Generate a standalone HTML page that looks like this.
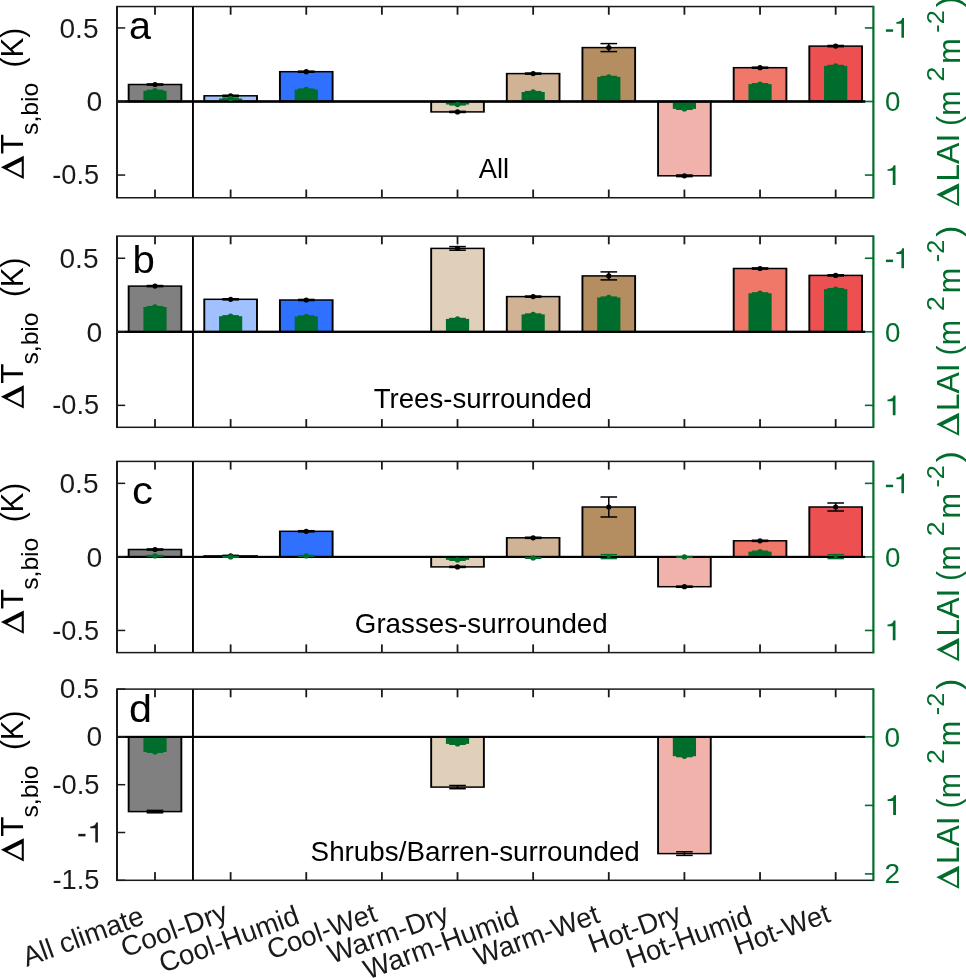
<!DOCTYPE html>
<html><head><meta charset="utf-8"><title>chart</title>
<style>html,body{margin:0;padding:0;background:#fff;width:966px;height:978px;overflow:hidden}svg{display:block;margin:0;will-change:transform}</style></head>
<body>
<svg width="966" height="978" viewBox="0 0 966 978">
<rect width="966" height="978" fill="#fff"/>
<g id="panel-a">
<rect x="127.70" y="83.75" width="54.60" height="18.50" fill="#000"/>
<rect x="129.60" y="85.25" width="50.80" height="15.50" fill="#808080"/>
<rect x="203.33" y="95.05" width="54.60" height="7.20" fill="#000"/>
<rect x="205.23" y="96.55" width="50.80" height="4.20" fill="#a0c0ff"/>
<rect x="278.96" y="70.95" width="54.60" height="31.30" fill="#000"/>
<rect x="280.86" y="72.45" width="50.80" height="28.30" fill="#3070ff"/>
<rect x="430.22" y="100.75" width="54.60" height="11.90" fill="#000"/>
<rect x="432.12" y="102.25" width="50.80" height="8.90" fill="#e0cfb9"/>
<rect x="505.85" y="72.85" width="54.60" height="29.40" fill="#000"/>
<rect x="507.75" y="74.35" width="50.80" height="26.40" fill="#d0b294"/>
<rect x="581.48" y="46.85" width="54.60" height="55.40" fill="#000"/>
<rect x="583.38" y="48.35" width="50.80" height="52.40" fill="#b48e60"/>
<rect x="657.11" y="100.75" width="54.60" height="75.80" fill="#000"/>
<rect x="659.01" y="102.25" width="50.80" height="72.80" fill="#f0b2aa"/>
<rect x="732.74" y="66.95" width="54.60" height="35.30" fill="#000"/>
<rect x="734.64" y="68.45" width="50.80" height="32.30" fill="#f07868"/>
<rect x="808.37" y="45.35" width="54.60" height="56.90" fill="#000"/>
<rect x="810.27" y="46.85" width="50.80" height="53.90" fill="#ec5050"/>
<rect x="117.00" y="100.50" width="748.20" height="2.00" fill="#000"/>
<rect x="146.70" y="83.20" width="16.60" height="1.50" fill="#000"/>
<rect x="146.70" y="84.30" width="16.60" height="1.50" fill="#000"/>
<circle cx="155.00" cy="84.50" r="2.6" fill="#000"/>
<rect x="222.33" y="94.50" width="16.60" height="1.50" fill="#000"/>
<rect x="222.33" y="95.60" width="16.60" height="1.50" fill="#000"/>
<circle cx="230.63" cy="95.80" r="2.6" fill="#000"/>
<rect x="297.96" y="70.40" width="16.60" height="1.50" fill="#000"/>
<rect x="297.96" y="71.50" width="16.60" height="1.50" fill="#000"/>
<circle cx="306.26" cy="71.70" r="2.6" fill="#000"/>
<rect x="449.22" y="110.60" width="16.60" height="1.50" fill="#000"/>
<rect x="449.22" y="111.70" width="16.60" height="1.50" fill="#000"/>
<circle cx="457.52" cy="111.90" r="2.6" fill="#000"/>
<rect x="524.85" y="72.30" width="16.60" height="1.50" fill="#000"/>
<rect x="524.85" y="73.40" width="16.60" height="1.50" fill="#000"/>
<circle cx="533.15" cy="73.60" r="2.6" fill="#000"/>
<rect x="608.03" y="43.60" width="1.50" height="8.00" fill="#000"/>
<rect x="600.48" y="42.85" width="16.60" height="1.50" fill="#000"/>
<rect x="600.48" y="50.85" width="16.60" height="1.50" fill="#000"/>
<circle cx="608.78" cy="47.60" r="2.6" fill="#000"/>
<rect x="676.11" y="174.25" width="16.60" height="1.50" fill="#000"/>
<rect x="676.11" y="175.85" width="16.60" height="1.50" fill="#000"/>
<circle cx="684.41" cy="175.80" r="2.6" fill="#000"/>
<rect x="751.74" y="66.40" width="16.60" height="1.50" fill="#000"/>
<rect x="751.74" y="67.50" width="16.60" height="1.50" fill="#000"/>
<circle cx="760.04" cy="67.70" r="2.6" fill="#000"/>
<rect x="827.37" y="44.75" width="16.60" height="1.50" fill="#000"/>
<rect x="827.37" y="45.95" width="16.60" height="1.50" fill="#000"/>
<circle cx="835.67" cy="46.10" r="2.6" fill="#000"/>
<rect x="143.40" y="90.80" width="23.20" height="10.70" fill="#006d2c"/>
<rect x="219.03" y="98.50" width="23.20" height="3.00" fill="#006d2c"/>
<rect x="294.66" y="89.50" width="23.20" height="12.00" fill="#006d2c"/>
<rect x="445.92" y="101.50" width="23.20" height="3.00" fill="#006d2c"/>
<rect x="521.55" y="92.00" width="23.20" height="9.50" fill="#006d2c"/>
<rect x="597.18" y="76.90" width="23.20" height="24.60" fill="#006d2c"/>
<rect x="672.81" y="101.50" width="23.20" height="7.40" fill="#006d2c"/>
<rect x="748.44" y="84.10" width="23.20" height="17.40" fill="#006d2c"/>
<rect x="824.07" y="65.90" width="23.20" height="35.60" fill="#006d2c"/>
<rect x="117.00" y="100.35" width="748.20" height="2.30" fill="#000"/>
<rect x="146.80" y="89.70" width="16.40" height="1.40" fill="#006d2c"/>
<rect x="146.80" y="90.50" width="16.40" height="1.40" fill="#006d2c"/>
<circle cx="155.00" cy="90.80" r="2.7" fill="#006d2c"/>
<rect x="222.43" y="97.40" width="16.40" height="1.40" fill="#006d2c"/>
<rect x="222.43" y="98.20" width="16.40" height="1.40" fill="#006d2c"/>
<circle cx="230.63" cy="98.50" r="2.7" fill="#006d2c"/>
<rect x="298.06" y="88.40" width="16.40" height="1.40" fill="#006d2c"/>
<rect x="298.06" y="89.20" width="16.40" height="1.40" fill="#006d2c"/>
<circle cx="306.26" cy="89.50" r="2.7" fill="#006d2c"/>
<rect x="449.32" y="103.40" width="16.40" height="1.40" fill="#006d2c"/>
<rect x="449.32" y="104.20" width="16.40" height="1.40" fill="#006d2c"/>
<circle cx="457.52" cy="104.50" r="2.7" fill="#006d2c"/>
<rect x="524.95" y="90.90" width="16.40" height="1.40" fill="#006d2c"/>
<rect x="524.95" y="91.70" width="16.40" height="1.40" fill="#006d2c"/>
<circle cx="533.15" cy="92.00" r="2.7" fill="#006d2c"/>
<rect x="600.58" y="75.80" width="16.40" height="1.40" fill="#006d2c"/>
<rect x="600.58" y="76.60" width="16.40" height="1.40" fill="#006d2c"/>
<circle cx="608.78" cy="76.90" r="2.7" fill="#006d2c"/>
<rect x="676.21" y="107.80" width="16.40" height="1.40" fill="#006d2c"/>
<rect x="676.21" y="108.60" width="16.40" height="1.40" fill="#006d2c"/>
<circle cx="684.41" cy="108.90" r="2.7" fill="#006d2c"/>
<rect x="751.84" y="83.00" width="16.40" height="1.40" fill="#006d2c"/>
<rect x="751.84" y="83.80" width="16.40" height="1.40" fill="#006d2c"/>
<circle cx="760.04" cy="84.10" r="2.7" fill="#006d2c"/>
<rect x="827.47" y="64.80" width="16.40" height="1.40" fill="#006d2c"/>
<rect x="827.47" y="65.60" width="16.40" height="1.40" fill="#006d2c"/>
<circle cx="835.67" cy="65.90" r="2.7" fill="#006d2c"/>
<rect x="192.00" y="6.55" width="1.90" height="191.20" fill="#000"/>
<rect x="154.10" y="6.55" width="1.80" height="8.20" fill="#1a1a1a"/>
<rect x="154.10" y="189.55" width="1.80" height="8.20" fill="#1a1a1a"/>
<rect x="229.73" y="6.55" width="1.80" height="8.20" fill="#1a1a1a"/>
<rect x="229.73" y="189.55" width="1.80" height="8.20" fill="#1a1a1a"/>
<rect x="305.36" y="6.55" width="1.80" height="8.20" fill="#1a1a1a"/>
<rect x="305.36" y="189.55" width="1.80" height="8.20" fill="#1a1a1a"/>
<rect x="380.99" y="6.55" width="1.80" height="8.20" fill="#1a1a1a"/>
<rect x="380.99" y="189.55" width="1.80" height="8.20" fill="#1a1a1a"/>
<rect x="456.62" y="6.55" width="1.80" height="8.20" fill="#1a1a1a"/>
<rect x="456.62" y="189.55" width="1.80" height="8.20" fill="#1a1a1a"/>
<rect x="532.25" y="6.55" width="1.80" height="8.20" fill="#1a1a1a"/>
<rect x="532.25" y="189.55" width="1.80" height="8.20" fill="#1a1a1a"/>
<rect x="607.88" y="6.55" width="1.80" height="8.20" fill="#1a1a1a"/>
<rect x="607.88" y="189.55" width="1.80" height="8.20" fill="#1a1a1a"/>
<rect x="683.51" y="6.55" width="1.80" height="8.20" fill="#1a1a1a"/>
<rect x="683.51" y="189.55" width="1.80" height="8.20" fill="#1a1a1a"/>
<rect x="759.14" y="6.55" width="1.80" height="8.20" fill="#1a1a1a"/>
<rect x="759.14" y="189.55" width="1.80" height="8.20" fill="#1a1a1a"/>
<rect x="834.77" y="6.55" width="1.80" height="8.20" fill="#1a1a1a"/>
<rect x="834.77" y="189.55" width="1.80" height="8.20" fill="#1a1a1a"/>
<rect x="117.00" y="27.20" width="8.20" height="1.50" fill="#1a1a1a"/>
<rect x="117.00" y="100.75" width="8.20" height="1.50" fill="#1a1a1a"/>
<rect x="117.00" y="174.30" width="8.20" height="1.50" fill="#1a1a1a"/>
<rect x="864.90" y="27.15" width="8.50" height="1.60" fill="#006d2c"/>
<rect x="864.90" y="100.70" width="8.50" height="1.60" fill="#006d2c"/>
<rect x="864.90" y="174.25" width="8.50" height="1.60" fill="#006d2c"/>
<rect x="116.05" y="5.80" width="757.35" height="1.50" fill="#1a1a1a"/>
<rect x="116.05" y="197.00" width="757.35" height="1.50" fill="#1a1a1a"/>
<rect x="116.00" y="6.55" width="2.00" height="191.20" fill="#1a1a1a"/>
<rect x="872.30" y="5.80" width="2.20" height="192.70" fill="#006d2c"/>
</g>
<g id="panel-b">
<rect x="127.70" y="285.35" width="54.60" height="47.20" fill="#000"/>
<rect x="129.60" y="286.85" width="50.80" height="44.20" fill="#808080"/>
<rect x="203.33" y="298.55" width="54.60" height="34.00" fill="#000"/>
<rect x="205.23" y="300.05" width="50.80" height="31.00" fill="#a0c0ff"/>
<rect x="278.96" y="299.25" width="54.60" height="33.30" fill="#000"/>
<rect x="280.86" y="300.75" width="50.80" height="30.30" fill="#3070ff"/>
<rect x="430.22" y="247.65" width="54.60" height="84.90" fill="#000"/>
<rect x="432.12" y="249.15" width="50.80" height="81.90" fill="#e0cfb9"/>
<rect x="505.85" y="295.85" width="54.60" height="36.70" fill="#000"/>
<rect x="507.75" y="297.35" width="50.80" height="33.70" fill="#d0b294"/>
<rect x="581.48" y="275.15" width="54.60" height="57.40" fill="#000"/>
<rect x="583.38" y="276.65" width="50.80" height="54.40" fill="#b48e60"/>
<rect x="732.74" y="267.75" width="54.60" height="64.80" fill="#000"/>
<rect x="734.64" y="269.25" width="50.80" height="61.80" fill="#f07868"/>
<rect x="808.37" y="274.65" width="54.60" height="57.90" fill="#000"/>
<rect x="810.27" y="276.15" width="50.80" height="54.90" fill="#ec5050"/>
<rect x="117.00" y="330.80" width="748.20" height="2.00" fill="#000"/>
<rect x="146.70" y="284.80" width="16.60" height="1.50" fill="#000"/>
<rect x="146.70" y="285.90" width="16.60" height="1.50" fill="#000"/>
<circle cx="155.00" cy="286.10" r="2.6" fill="#000"/>
<rect x="222.33" y="298.00" width="16.60" height="1.50" fill="#000"/>
<rect x="222.33" y="299.10" width="16.60" height="1.50" fill="#000"/>
<circle cx="230.63" cy="299.30" r="2.6" fill="#000"/>
<rect x="297.96" y="298.70" width="16.60" height="1.50" fill="#000"/>
<rect x="297.96" y="299.80" width="16.60" height="1.50" fill="#000"/>
<circle cx="306.26" cy="300.00" r="2.6" fill="#000"/>
<rect x="456.77" y="246.60" width="1.50" height="3.60" fill="#000"/>
<rect x="449.22" y="245.85" width="16.60" height="1.50" fill="#000"/>
<rect x="449.22" y="249.45" width="16.60" height="1.50" fill="#000"/>
<circle cx="457.52" cy="248.40" r="2.6" fill="#000"/>
<rect x="524.85" y="295.30" width="16.60" height="1.50" fill="#000"/>
<rect x="524.85" y="296.40" width="16.60" height="1.50" fill="#000"/>
<circle cx="533.15" cy="296.60" r="2.6" fill="#000"/>
<rect x="608.03" y="271.90" width="1.50" height="8.00" fill="#000"/>
<rect x="600.48" y="271.15" width="16.60" height="1.50" fill="#000"/>
<rect x="600.48" y="279.15" width="16.60" height="1.50" fill="#000"/>
<circle cx="608.78" cy="275.90" r="2.6" fill="#000"/>
<rect x="751.74" y="267.15" width="16.60" height="1.50" fill="#000"/>
<rect x="751.74" y="268.35" width="16.60" height="1.50" fill="#000"/>
<circle cx="760.04" cy="268.50" r="2.6" fill="#000"/>
<rect x="827.37" y="274.05" width="16.60" height="1.50" fill="#000"/>
<rect x="827.37" y="275.25" width="16.60" height="1.50" fill="#000"/>
<circle cx="835.67" cy="275.40" r="2.6" fill="#000"/>
<rect x="143.40" y="307.00" width="23.20" height="24.80" fill="#006d2c"/>
<rect x="219.03" y="316.20" width="23.20" height="15.60" fill="#006d2c"/>
<rect x="294.66" y="316.40" width="23.20" height="15.40" fill="#006d2c"/>
<rect x="445.92" y="318.90" width="23.20" height="12.90" fill="#006d2c"/>
<rect x="521.55" y="314.40" width="23.20" height="17.40" fill="#006d2c"/>
<rect x="597.18" y="297.50" width="23.20" height="34.30" fill="#006d2c"/>
<rect x="748.44" y="293.30" width="23.20" height="38.50" fill="#006d2c"/>
<rect x="824.07" y="289.10" width="23.20" height="42.70" fill="#006d2c"/>
<rect x="117.00" y="330.80" width="748.20" height="2.00" fill="#000"/>
<rect x="146.80" y="305.90" width="16.40" height="1.40" fill="#006d2c"/>
<rect x="146.80" y="306.70" width="16.40" height="1.40" fill="#006d2c"/>
<circle cx="155.00" cy="307.00" r="2.7" fill="#006d2c"/>
<rect x="222.43" y="315.10" width="16.40" height="1.40" fill="#006d2c"/>
<rect x="222.43" y="315.90" width="16.40" height="1.40" fill="#006d2c"/>
<circle cx="230.63" cy="316.20" r="2.7" fill="#006d2c"/>
<rect x="298.06" y="315.30" width="16.40" height="1.40" fill="#006d2c"/>
<rect x="298.06" y="316.10" width="16.40" height="1.40" fill="#006d2c"/>
<circle cx="306.26" cy="316.40" r="2.7" fill="#006d2c"/>
<rect x="449.32" y="317.80" width="16.40" height="1.40" fill="#006d2c"/>
<rect x="449.32" y="318.60" width="16.40" height="1.40" fill="#006d2c"/>
<circle cx="457.52" cy="318.90" r="2.7" fill="#006d2c"/>
<rect x="524.95" y="313.30" width="16.40" height="1.40" fill="#006d2c"/>
<rect x="524.95" y="314.10" width="16.40" height="1.40" fill="#006d2c"/>
<circle cx="533.15" cy="314.40" r="2.7" fill="#006d2c"/>
<rect x="600.58" y="296.40" width="16.40" height="1.40" fill="#006d2c"/>
<rect x="600.58" y="297.20" width="16.40" height="1.40" fill="#006d2c"/>
<circle cx="608.78" cy="297.50" r="2.7" fill="#006d2c"/>
<rect x="751.84" y="292.20" width="16.40" height="1.40" fill="#006d2c"/>
<rect x="751.84" y="293.00" width="16.40" height="1.40" fill="#006d2c"/>
<circle cx="760.04" cy="293.30" r="2.7" fill="#006d2c"/>
<rect x="827.47" y="288.00" width="16.40" height="1.40" fill="#006d2c"/>
<rect x="827.47" y="288.80" width="16.40" height="1.40" fill="#006d2c"/>
<circle cx="835.67" cy="289.10" r="2.7" fill="#006d2c"/>
<rect x="192.00" y="236.10" width="1.90" height="191.20" fill="#000"/>
<rect x="154.10" y="236.10" width="1.80" height="8.20" fill="#1a1a1a"/>
<rect x="154.10" y="419.10" width="1.80" height="8.20" fill="#1a1a1a"/>
<rect x="229.73" y="236.10" width="1.80" height="8.20" fill="#1a1a1a"/>
<rect x="229.73" y="419.10" width="1.80" height="8.20" fill="#1a1a1a"/>
<rect x="305.36" y="236.10" width="1.80" height="8.20" fill="#1a1a1a"/>
<rect x="305.36" y="419.10" width="1.80" height="8.20" fill="#1a1a1a"/>
<rect x="380.99" y="236.10" width="1.80" height="8.20" fill="#1a1a1a"/>
<rect x="380.99" y="419.10" width="1.80" height="8.20" fill="#1a1a1a"/>
<rect x="456.62" y="236.10" width="1.80" height="8.20" fill="#1a1a1a"/>
<rect x="456.62" y="419.10" width="1.80" height="8.20" fill="#1a1a1a"/>
<rect x="532.25" y="236.10" width="1.80" height="8.20" fill="#1a1a1a"/>
<rect x="532.25" y="419.10" width="1.80" height="8.20" fill="#1a1a1a"/>
<rect x="607.88" y="236.10" width="1.80" height="8.20" fill="#1a1a1a"/>
<rect x="607.88" y="419.10" width="1.80" height="8.20" fill="#1a1a1a"/>
<rect x="683.51" y="236.10" width="1.80" height="8.20" fill="#1a1a1a"/>
<rect x="683.51" y="419.10" width="1.80" height="8.20" fill="#1a1a1a"/>
<rect x="759.14" y="236.10" width="1.80" height="8.20" fill="#1a1a1a"/>
<rect x="759.14" y="419.10" width="1.80" height="8.20" fill="#1a1a1a"/>
<rect x="834.77" y="236.10" width="1.80" height="8.20" fill="#1a1a1a"/>
<rect x="834.77" y="419.10" width="1.80" height="8.20" fill="#1a1a1a"/>
<rect x="117.00" y="257.50" width="8.20" height="1.50" fill="#1a1a1a"/>
<rect x="117.00" y="331.05" width="8.20" height="1.50" fill="#1a1a1a"/>
<rect x="117.00" y="404.60" width="8.20" height="1.50" fill="#1a1a1a"/>
<rect x="864.90" y="257.45" width="8.50" height="1.60" fill="#006d2c"/>
<rect x="864.90" y="331.00" width="8.50" height="1.60" fill="#006d2c"/>
<rect x="864.90" y="404.55" width="8.50" height="1.60" fill="#006d2c"/>
<rect x="116.05" y="235.35" width="757.35" height="1.50" fill="#1a1a1a"/>
<rect x="116.05" y="426.55" width="757.35" height="1.50" fill="#1a1a1a"/>
<rect x="116.00" y="236.10" width="2.00" height="191.20" fill="#1a1a1a"/>
<rect x="872.30" y="235.35" width="2.20" height="192.70" fill="#006d2c"/>
</g>
<g id="panel-c">
<rect x="127.70" y="548.75" width="54.60" height="8.90" fill="#000"/>
<rect x="129.60" y="550.25" width="50.80" height="5.90" fill="#808080"/>
<rect x="203.33" y="555.15" width="54.60" height="2.50" fill="#000"/>
<rect x="278.96" y="530.55" width="54.60" height="27.10" fill="#000"/>
<rect x="280.86" y="532.05" width="50.80" height="24.10" fill="#3070ff"/>
<rect x="430.22" y="556.15" width="54.60" height="11.50" fill="#000"/>
<rect x="432.12" y="557.65" width="50.80" height="8.50" fill="#e0cfb9"/>
<rect x="505.85" y="537.05" width="54.60" height="20.60" fill="#000"/>
<rect x="507.75" y="538.55" width="50.80" height="17.60" fill="#d0b294"/>
<rect x="581.48" y="506.25" width="54.60" height="51.40" fill="#000"/>
<rect x="583.38" y="507.75" width="50.80" height="48.40" fill="#b48e60"/>
<rect x="657.11" y="556.15" width="54.60" height="31.30" fill="#000"/>
<rect x="659.01" y="557.65" width="50.80" height="28.30" fill="#f0b2aa"/>
<rect x="732.74" y="540.05" width="54.60" height="17.60" fill="#000"/>
<rect x="734.64" y="541.55" width="50.80" height="14.60" fill="#f07868"/>
<rect x="808.37" y="506.25" width="54.60" height="51.40" fill="#000"/>
<rect x="810.27" y="507.75" width="50.80" height="48.40" fill="#ec5050"/>
<rect x="117.00" y="555.90" width="748.20" height="2.00" fill="#000"/>
<rect x="146.70" y="548.20" width="16.60" height="1.50" fill="#000"/>
<rect x="146.70" y="549.30" width="16.60" height="1.50" fill="#000"/>
<circle cx="155.00" cy="549.50" r="2.6" fill="#000"/>
<rect x="222.33" y="554.60" width="16.60" height="1.50" fill="#000"/>
<rect x="222.33" y="555.70" width="16.60" height="1.50" fill="#000"/>
<circle cx="230.63" cy="555.90" r="2.6" fill="#000"/>
<rect x="297.96" y="529.95" width="16.60" height="1.50" fill="#000"/>
<rect x="297.96" y="531.15" width="16.60" height="1.50" fill="#000"/>
<circle cx="306.26" cy="531.30" r="2.6" fill="#000"/>
<rect x="449.22" y="565.60" width="16.60" height="1.50" fill="#000"/>
<rect x="449.22" y="566.70" width="16.60" height="1.50" fill="#000"/>
<circle cx="457.52" cy="566.90" r="2.6" fill="#000"/>
<rect x="524.85" y="536.50" width="16.60" height="1.50" fill="#000"/>
<rect x="524.85" y="537.60" width="16.60" height="1.50" fill="#000"/>
<circle cx="533.15" cy="537.80" r="2.6" fill="#000"/>
<rect x="608.03" y="497.00" width="1.50" height="20.00" fill="#000"/>
<rect x="600.48" y="496.25" width="16.60" height="1.50" fill="#000"/>
<rect x="600.48" y="516.25" width="16.60" height="1.50" fill="#000"/>
<circle cx="608.78" cy="507.00" r="2.6" fill="#000"/>
<rect x="676.11" y="585.35" width="16.60" height="1.50" fill="#000"/>
<rect x="676.11" y="586.55" width="16.60" height="1.50" fill="#000"/>
<circle cx="684.41" cy="586.70" r="2.6" fill="#000"/>
<rect x="751.74" y="539.50" width="16.60" height="1.50" fill="#000"/>
<rect x="751.74" y="540.60" width="16.60" height="1.50" fill="#000"/>
<circle cx="760.04" cy="540.80" r="2.6" fill="#000"/>
<rect x="834.92" y="503.00" width="1.50" height="8.00" fill="#000"/>
<rect x="827.37" y="502.25" width="16.60" height="1.50" fill="#000"/>
<rect x="827.37" y="510.25" width="16.60" height="1.50" fill="#000"/>
<circle cx="835.67" cy="507.00" r="2.6" fill="#000"/>
<rect x="143.40" y="555.90" width="23.20" height="1.00" fill="#006d2c"/>
<rect x="294.66" y="555.90" width="23.20" height="1.00" fill="#006d2c"/>
<rect x="445.92" y="556.90" width="23.20" height="3.00" fill="#006d2c"/>
<rect x="521.55" y="556.90" width="23.20" height="1.00" fill="#006d2c"/>
<rect x="597.18" y="556.60" width="23.20" height="0.30" fill="#006d2c"/>
<rect x="748.44" y="551.60" width="23.20" height="5.30" fill="#006d2c"/>
<rect x="824.07" y="556.60" width="23.20" height="0.30" fill="#006d2c"/>
<rect x="117.00" y="555.90" width="748.20" height="2.00" fill="#000"/>
<rect x="146.80" y="554.80" width="16.40" height="1.40" fill="#006d2c"/>
<rect x="146.80" y="555.60" width="16.40" height="1.40" fill="#006d2c"/>
<circle cx="155.00" cy="555.90" r="2.7" fill="#006d2c"/>
<rect x="222.43" y="555.80" width="16.40" height="1.40" fill="#006d2c"/>
<rect x="222.43" y="556.60" width="16.40" height="1.40" fill="#006d2c"/>
<circle cx="230.63" cy="556.90" r="2.7" fill="#006d2c"/>
<rect x="298.06" y="554.80" width="16.40" height="1.40" fill="#006d2c"/>
<rect x="298.06" y="555.60" width="16.40" height="1.40" fill="#006d2c"/>
<circle cx="306.26" cy="555.90" r="2.7" fill="#006d2c"/>
<rect x="449.32" y="558.80" width="16.40" height="1.40" fill="#006d2c"/>
<rect x="449.32" y="559.60" width="16.40" height="1.40" fill="#006d2c"/>
<circle cx="457.52" cy="559.90" r="2.7" fill="#006d2c"/>
<rect x="524.95" y="556.80" width="16.40" height="1.40" fill="#006d2c"/>
<rect x="524.95" y="557.60" width="16.40" height="1.40" fill="#006d2c"/>
<circle cx="533.15" cy="557.90" r="2.7" fill="#006d2c"/>
<rect x="600.58" y="553.90" width="16.40" height="1.40" fill="#006d2c"/>
<rect x="600.58" y="557.90" width="16.40" height="1.40" fill="#006d2c"/>
<circle cx="608.78" cy="556.60" r="2.0" fill="#006d2c"/>
<rect x="676.21" y="555.80" width="16.40" height="1.40" fill="#006d2c"/>
<rect x="676.21" y="556.60" width="16.40" height="1.40" fill="#006d2c"/>
<circle cx="684.41" cy="556.90" r="2.7" fill="#006d2c"/>
<rect x="751.84" y="550.50" width="16.40" height="1.40" fill="#006d2c"/>
<rect x="751.84" y="551.30" width="16.40" height="1.40" fill="#006d2c"/>
<circle cx="760.04" cy="551.60" r="2.7" fill="#006d2c"/>
<rect x="827.47" y="553.90" width="16.40" height="1.40" fill="#006d2c"/>
<rect x="827.47" y="557.90" width="16.40" height="1.40" fill="#006d2c"/>
<circle cx="835.67" cy="556.60" r="2.0" fill="#006d2c"/>
<rect x="192.00" y="461.40" width="1.90" height="191.20" fill="#000"/>
<rect x="154.10" y="461.40" width="1.80" height="8.20" fill="#1a1a1a"/>
<rect x="154.10" y="644.40" width="1.80" height="8.20" fill="#1a1a1a"/>
<rect x="229.73" y="461.40" width="1.80" height="8.20" fill="#1a1a1a"/>
<rect x="229.73" y="644.40" width="1.80" height="8.20" fill="#1a1a1a"/>
<rect x="305.36" y="461.40" width="1.80" height="8.20" fill="#1a1a1a"/>
<rect x="305.36" y="644.40" width="1.80" height="8.20" fill="#1a1a1a"/>
<rect x="380.99" y="461.40" width="1.80" height="8.20" fill="#1a1a1a"/>
<rect x="380.99" y="644.40" width="1.80" height="8.20" fill="#1a1a1a"/>
<rect x="456.62" y="461.40" width="1.80" height="8.20" fill="#1a1a1a"/>
<rect x="456.62" y="644.40" width="1.80" height="8.20" fill="#1a1a1a"/>
<rect x="532.25" y="461.40" width="1.80" height="8.20" fill="#1a1a1a"/>
<rect x="532.25" y="644.40" width="1.80" height="8.20" fill="#1a1a1a"/>
<rect x="607.88" y="461.40" width="1.80" height="8.20" fill="#1a1a1a"/>
<rect x="607.88" y="644.40" width="1.80" height="8.20" fill="#1a1a1a"/>
<rect x="683.51" y="461.40" width="1.80" height="8.20" fill="#1a1a1a"/>
<rect x="683.51" y="644.40" width="1.80" height="8.20" fill="#1a1a1a"/>
<rect x="759.14" y="461.40" width="1.80" height="8.20" fill="#1a1a1a"/>
<rect x="759.14" y="644.40" width="1.80" height="8.20" fill="#1a1a1a"/>
<rect x="834.77" y="461.40" width="1.80" height="8.20" fill="#1a1a1a"/>
<rect x="834.77" y="644.40" width="1.80" height="8.20" fill="#1a1a1a"/>
<rect x="117.00" y="482.60" width="8.20" height="1.50" fill="#1a1a1a"/>
<rect x="117.00" y="556.15" width="8.20" height="1.50" fill="#1a1a1a"/>
<rect x="117.00" y="629.70" width="8.20" height="1.50" fill="#1a1a1a"/>
<rect x="864.90" y="482.55" width="8.50" height="1.60" fill="#006d2c"/>
<rect x="864.90" y="556.10" width="8.50" height="1.60" fill="#006d2c"/>
<rect x="864.90" y="629.65" width="8.50" height="1.60" fill="#006d2c"/>
<rect x="116.05" y="460.65" width="757.35" height="1.50" fill="#1a1a1a"/>
<rect x="116.05" y="651.85" width="757.35" height="1.50" fill="#1a1a1a"/>
<rect x="116.00" y="461.40" width="2.00" height="191.20" fill="#1a1a1a"/>
<rect x="872.30" y="460.65" width="2.20" height="192.70" fill="#006d2c"/>
</g>
<g id="panel-d">
<rect x="127.70" y="736.15" width="54.60" height="76.20" fill="#000"/>
<rect x="129.60" y="737.65" width="50.80" height="73.20" fill="#808080"/>
<rect x="430.22" y="736.15" width="54.60" height="51.70" fill="#000"/>
<rect x="432.12" y="737.65" width="50.80" height="48.70" fill="#e0cfb9"/>
<rect x="657.11" y="736.15" width="54.60" height="118.20" fill="#000"/>
<rect x="659.01" y="737.65" width="50.80" height="115.20" fill="#f0b2aa"/>
<rect x="117.00" y="735.90" width="748.20" height="2.00" fill="#000"/>
<rect x="154.25" y="810.40" width="1.50" height="2.40" fill="#000"/>
<rect x="146.70" y="809.65" width="16.60" height="1.50" fill="#000"/>
<rect x="146.70" y="812.05" width="16.60" height="1.50" fill="#000"/>
<rect x="456.77" y="785.50" width="1.50" height="3.20" fill="#000"/>
<rect x="449.22" y="784.75" width="16.60" height="1.50" fill="#000"/>
<rect x="449.22" y="787.95" width="16.60" height="1.50" fill="#000"/>
<rect x="683.66" y="851.80" width="1.50" height="3.60" fill="#000"/>
<rect x="676.11" y="851.05" width="16.60" height="1.50" fill="#000"/>
<rect x="676.11" y="854.65" width="16.60" height="1.50" fill="#000"/>
<rect x="143.40" y="736.90" width="23.20" height="15.00" fill="#006d2c"/>
<rect x="445.92" y="736.90" width="23.20" height="7.00" fill="#006d2c"/>
<rect x="672.81" y="736.90" width="23.20" height="19.30" fill="#006d2c"/>
<rect x="117.00" y="735.90" width="748.20" height="2.00" fill="#000"/>
<rect x="146.80" y="750.80" width="16.40" height="1.40" fill="#006d2c"/>
<rect x="146.80" y="751.60" width="16.40" height="1.40" fill="#006d2c"/>
<circle cx="155.00" cy="751.90" r="2.7" fill="#006d2c"/>
<rect x="449.32" y="742.80" width="16.40" height="1.40" fill="#006d2c"/>
<rect x="449.32" y="743.60" width="16.40" height="1.40" fill="#006d2c"/>
<circle cx="457.52" cy="743.90" r="2.7" fill="#006d2c"/>
<rect x="676.21" y="755.10" width="16.40" height="1.40" fill="#006d2c"/>
<rect x="676.21" y="755.90" width="16.40" height="1.40" fill="#006d2c"/>
<circle cx="684.41" cy="756.20" r="2.7" fill="#006d2c"/>
<rect x="192.00" y="689.10" width="1.90" height="191.20" fill="#000"/>
<rect x="154.10" y="689.10" width="1.80" height="8.20" fill="#1a1a1a"/>
<rect x="154.10" y="872.10" width="1.80" height="8.20" fill="#1a1a1a"/>
<rect x="229.73" y="689.10" width="1.80" height="8.20" fill="#1a1a1a"/>
<rect x="229.73" y="872.10" width="1.80" height="8.20" fill="#1a1a1a"/>
<rect x="305.36" y="689.10" width="1.80" height="8.20" fill="#1a1a1a"/>
<rect x="305.36" y="872.10" width="1.80" height="8.20" fill="#1a1a1a"/>
<rect x="380.99" y="689.10" width="1.80" height="8.20" fill="#1a1a1a"/>
<rect x="380.99" y="872.10" width="1.80" height="8.20" fill="#1a1a1a"/>
<rect x="456.62" y="689.10" width="1.80" height="8.20" fill="#1a1a1a"/>
<rect x="456.62" y="872.10" width="1.80" height="8.20" fill="#1a1a1a"/>
<rect x="532.25" y="689.10" width="1.80" height="8.20" fill="#1a1a1a"/>
<rect x="532.25" y="872.10" width="1.80" height="8.20" fill="#1a1a1a"/>
<rect x="607.88" y="689.10" width="1.80" height="8.20" fill="#1a1a1a"/>
<rect x="607.88" y="872.10" width="1.80" height="8.20" fill="#1a1a1a"/>
<rect x="683.51" y="689.10" width="1.80" height="8.20" fill="#1a1a1a"/>
<rect x="683.51" y="872.10" width="1.80" height="8.20" fill="#1a1a1a"/>
<rect x="759.14" y="689.10" width="1.80" height="8.20" fill="#1a1a1a"/>
<rect x="759.14" y="872.10" width="1.80" height="8.20" fill="#1a1a1a"/>
<rect x="834.77" y="689.10" width="1.80" height="8.20" fill="#1a1a1a"/>
<rect x="834.77" y="872.10" width="1.80" height="8.20" fill="#1a1a1a"/>
<rect x="117.00" y="688.35" width="8.20" height="1.50" fill="#1a1a1a"/>
<rect x="117.00" y="736.15" width="8.20" height="1.50" fill="#1a1a1a"/>
<rect x="117.00" y="783.95" width="8.20" height="1.50" fill="#1a1a1a"/>
<rect x="117.00" y="831.75" width="8.20" height="1.50" fill="#1a1a1a"/>
<rect x="117.00" y="879.55" width="8.20" height="1.50" fill="#1a1a1a"/>
<rect x="864.90" y="736.10" width="8.50" height="1.60" fill="#006d2c"/>
<rect x="864.90" y="804.60" width="8.50" height="1.60" fill="#006d2c"/>
<rect x="864.90" y="873.10" width="8.50" height="1.60" fill="#006d2c"/>
<rect x="116.05" y="688.35" width="757.35" height="1.50" fill="#1a1a1a"/>
<rect x="116.05" y="879.55" width="757.35" height="1.50" fill="#1a1a1a"/>
<rect x="116.00" y="689.10" width="2.00" height="191.20" fill="#1a1a1a"/>
<rect x="872.30" y="688.35" width="2.20" height="192.70" fill="#006d2c"/>
</g>
<g id="labels">
<text transform="translate(59.5,37.65) rotate(0) scale(1.0015,1)" font-family="Liberation Sans, sans-serif" font-size="28" fill="#1a1a1a">0.5</text>
<text transform="translate(86.5,111.4) rotate(0) scale(1.0103,1)" font-family="Liberation Sans, sans-serif" font-size="28" fill="#1a1a1a">0</text>
<text transform="translate(52.3,184.15) rotate(0) scale(0.9704,1)" font-family="Liberation Sans, sans-serif" font-size="28" fill="#1a1a1a">-0.5</text>
<rect x="885.90" y="29.30" width="7.2" height="2.5" fill="#006d2c"/>
<path transform="translate(893.42,37.85) scale(29.457,27.927)" d="M0.359 0H0.271V-0.505H0.101V-0.566C0.205 -0.572 0.272 -0.6 0.301 -0.709H0.359Z" fill="#006d2c"/>
<text transform="translate(884.9,111.4) rotate(0) scale(0.9926,1)" font-family="Liberation Sans, sans-serif" font-size="28" fill="#006d2c">0</text>
<path transform="translate(884.37,184.95) scale(31.008,27.927)" d="M0.359 0H0.271V-0.505H0.101V-0.566C0.205 -0.572 0.272 -0.6 0.301 -0.709H0.359Z" fill="#006d2c"/>
<text transform="translate(59.5,267.95) rotate(0) scale(1.0015,1)" font-family="Liberation Sans, sans-serif" font-size="28" fill="#1a1a1a">0.5</text>
<text transform="translate(86.5,341.7) rotate(0) scale(1.0103,1)" font-family="Liberation Sans, sans-serif" font-size="28" fill="#1a1a1a">0</text>
<text transform="translate(52.3,414.45) rotate(0) scale(0.9704,1)" font-family="Liberation Sans, sans-serif" font-size="28" fill="#1a1a1a">-0.5</text>
<rect x="885.90" y="259.60" width="7.2" height="2.5" fill="#006d2c"/>
<path transform="translate(893.42,268.15) scale(29.457,27.927)" d="M0.359 0H0.271V-0.505H0.101V-0.566C0.205 -0.572 0.272 -0.6 0.301 -0.709H0.359Z" fill="#006d2c"/>
<text transform="translate(884.9,341.7) rotate(0) scale(0.9926,1)" font-family="Liberation Sans, sans-serif" font-size="28" fill="#006d2c">0</text>
<path transform="translate(884.37,415.25) scale(31.008,27.927)" d="M0.359 0H0.271V-0.505H0.101V-0.566C0.205 -0.572 0.272 -0.6 0.301 -0.709H0.359Z" fill="#006d2c"/>
<text transform="translate(59.5,493.05) rotate(0) scale(1.0015,1)" font-family="Liberation Sans, sans-serif" font-size="28" fill="#1a1a1a">0.5</text>
<text transform="translate(86.5,566.8) rotate(0) scale(1.0103,1)" font-family="Liberation Sans, sans-serif" font-size="28" fill="#1a1a1a">0</text>
<text transform="translate(52.3,639.55) rotate(0) scale(0.9704,1)" font-family="Liberation Sans, sans-serif" font-size="28" fill="#1a1a1a">-0.5</text>
<rect x="885.90" y="484.70" width="7.2" height="2.5" fill="#006d2c"/>
<path transform="translate(893.42,493.25) scale(29.457,27.927)" d="M0.359 0H0.271V-0.505H0.101V-0.566C0.205 -0.572 0.272 -0.6 0.301 -0.709H0.359Z" fill="#006d2c"/>
<text transform="translate(884.9,566.8) rotate(0) scale(0.9926,1)" font-family="Liberation Sans, sans-serif" font-size="28" fill="#006d2c">0</text>
<path transform="translate(884.37,640.35) scale(31.008,27.927)" d="M0.359 0H0.271V-0.505H0.101V-0.566C0.205 -0.572 0.272 -0.6 0.301 -0.709H0.359Z" fill="#006d2c"/>
<text transform="translate(59.7,698.4) rotate(0) scale(1.0111,1)" font-family="Liberation Sans, sans-serif" font-size="28" fill="#1a1a1a">0.5</text>
<text transform="translate(86.5,746.4) rotate(0) scale(1.0051,1)" font-family="Liberation Sans, sans-serif" font-size="28" fill="#1a1a1a">0</text>
<text transform="translate(52.4,794.4) rotate(0) scale(0.9746,1)" font-family="Liberation Sans, sans-serif" font-size="28" fill="#1a1a1a">-0.5</text>
<rect x="78.30" y="833.85" width="7.2" height="2.5" fill="#1a1a1a"/>
<path transform="translate(87.32,842.40) scale(29.457,27.927)" d="M0.359 0H0.271V-0.505H0.101V-0.566C0.205 -0.572 0.272 -0.6 0.301 -0.709H0.359Z" fill="#1a1a1a"/>
<text transform="translate(52.4,889.4) rotate(0) scale(0.9746,1)" font-family="Liberation Sans, sans-serif" font-size="28" fill="#1a1a1a">-1.5</text>
<text transform="translate(884.5,746.9) rotate(0) scale(1.0027,1)" font-family="Liberation Sans, sans-serif" font-size="28" fill="#006d2c">0</text>
<path transform="translate(884.31,815.00) scale(32.558,27.927)" d="M0.359 0H0.271V-0.505H0.101V-0.566C0.205 -0.572 0.272 -0.6 0.301 -0.709H0.359Z" fill="#006d2c"/>
<text transform="translate(884.5,882.9) rotate(0) scale(1.0027,1)" font-family="Liberation Sans, sans-serif" font-size="28" fill="#006d2c">2</text>
<path transform="translate(23.80,179.19) rotate(-90) scale(38.640,33.285)" d="M0.005 0L0.608 0L0.31 -0.688ZM0.0875 -0.062L0.279 -0.494L0.466 -0.062Z" fill="#000" fill-rule="evenodd"/>
<text transform="translate(22.6,154.3) rotate(-90) scale(1.0825,1)" font-family="Liberation Sans, sans-serif" font-size="30.5" fill="#000">T</text>
<text transform="translate(37.7,134.9) rotate(-90) scale(1.0045,1)" font-family="Liberation Sans, sans-serif" font-size="24.5" fill="#000">s,bio</text>
<text transform="translate(23.0,67.5) rotate(-90) scale(0.9733,1)" font-family="Liberation Sans, sans-serif" font-size="30.5" fill="#000">(K)</text>
<path transform="translate(959.10,206.49) rotate(-90) scale(38.308,33.140)" d="M0.005 0L0.608 0L0.31 -0.688ZM0.0875 -0.062L0.279 -0.494L0.466 -0.062Z" fill="#006d2c" fill-rule="evenodd"/>
<text transform="translate(959.1,181.8) rotate(-90) scale(1.0348,1)" font-family="Liberation Sans, sans-serif" font-size="31" fill="#006d2c">LAI</text>
<text transform="translate(959.4,125.8) rotate(-90) scale(0.9309,1)" font-family="Liberation Sans, sans-serif" font-size="31" fill="#006d2c">(</text>
<text transform="translate(959.5,115.7) rotate(-90) scale(0.9819,1)" font-family="Liberation Sans, sans-serif" font-size="31" fill="#006d2c">m</text>
<text transform="translate(943.8,81.5) rotate(-90) scale(1.0909,1)" font-family="Liberation Sans, sans-serif" font-size="24.5" fill="#006d2c">2</text>
<text transform="translate(959.5,63.7) rotate(-90) scale(0.9848,1)" font-family="Liberation Sans, sans-serif" font-size="31" fill="#006d2c">m</text>
<text transform="translate(943.8,32.7) rotate(-90) scale(1.0317,1)" font-family="Liberation Sans, sans-serif" font-size="24.5" fill="#006d2c">-2</text>
<text transform="translate(959.4,7.3) rotate(-90) scale(1.0638,1)" font-family="Liberation Sans, sans-serif" font-size="31" fill="#006d2c">)</text>
<path transform="translate(23.80,408.74) rotate(-90) scale(38.640,33.285)" d="M0.005 0L0.608 0L0.31 -0.688ZM0.0875 -0.062L0.279 -0.494L0.466 -0.062Z" fill="#000" fill-rule="evenodd"/>
<text transform="translate(22.6,383.85) rotate(-90) scale(1.0825,1)" font-family="Liberation Sans, sans-serif" font-size="30.5" fill="#000">T</text>
<text transform="translate(37.7,364.45) rotate(-90) scale(1.0045,1)" font-family="Liberation Sans, sans-serif" font-size="24.5" fill="#000">s,bio</text>
<text transform="translate(23.0,297.05) rotate(-90) scale(0.9733,1)" font-family="Liberation Sans, sans-serif" font-size="30.5" fill="#000">(K)</text>
<path transform="translate(959.10,436.04) rotate(-90) scale(38.308,33.140)" d="M0.005 0L0.608 0L0.31 -0.688ZM0.0875 -0.062L0.279 -0.494L0.466 -0.062Z" fill="#006d2c" fill-rule="evenodd"/>
<text transform="translate(959.1,411.35) rotate(-90) scale(1.0348,1)" font-family="Liberation Sans, sans-serif" font-size="31" fill="#006d2c">LAI</text>
<text transform="translate(959.4,355.35) rotate(-90) scale(0.9309,1)" font-family="Liberation Sans, sans-serif" font-size="31" fill="#006d2c">(</text>
<text transform="translate(959.5,345.25) rotate(-90) scale(0.9819,1)" font-family="Liberation Sans, sans-serif" font-size="31" fill="#006d2c">m</text>
<text transform="translate(943.8,311.05) rotate(-90) scale(1.0909,1)" font-family="Liberation Sans, sans-serif" font-size="24.5" fill="#006d2c">2</text>
<text transform="translate(959.5,293.25) rotate(-90) scale(0.9848,1)" font-family="Liberation Sans, sans-serif" font-size="31" fill="#006d2c">m</text>
<text transform="translate(943.8,262.25) rotate(-90) scale(1.0317,1)" font-family="Liberation Sans, sans-serif" font-size="24.5" fill="#006d2c">-2</text>
<text transform="translate(959.4,236.85) rotate(-90) scale(1.0638,1)" font-family="Liberation Sans, sans-serif" font-size="31" fill="#006d2c">)</text>
<path transform="translate(23.80,634.04) rotate(-90) scale(38.640,33.285)" d="M0.005 0L0.608 0L0.31 -0.688ZM0.0875 -0.062L0.279 -0.494L0.466 -0.062Z" fill="#000" fill-rule="evenodd"/>
<text transform="translate(22.6,609.15) rotate(-90) scale(1.0825,1)" font-family="Liberation Sans, sans-serif" font-size="30.5" fill="#000">T</text>
<text transform="translate(37.7,589.75) rotate(-90) scale(1.0045,1)" font-family="Liberation Sans, sans-serif" font-size="24.5" fill="#000">s,bio</text>
<text transform="translate(23.0,522.35) rotate(-90) scale(0.9733,1)" font-family="Liberation Sans, sans-serif" font-size="30.5" fill="#000">(K)</text>
<path transform="translate(959.10,661.34) rotate(-90) scale(38.308,33.140)" d="M0.005 0L0.608 0L0.31 -0.688ZM0.0875 -0.062L0.279 -0.494L0.466 -0.062Z" fill="#006d2c" fill-rule="evenodd"/>
<text transform="translate(959.1,636.65) rotate(-90) scale(1.0348,1)" font-family="Liberation Sans, sans-serif" font-size="31" fill="#006d2c">LAI</text>
<text transform="translate(959.4,580.65) rotate(-90) scale(0.9309,1)" font-family="Liberation Sans, sans-serif" font-size="31" fill="#006d2c">(</text>
<text transform="translate(959.5,570.55) rotate(-90) scale(0.9819,1)" font-family="Liberation Sans, sans-serif" font-size="31" fill="#006d2c">m</text>
<text transform="translate(943.8,536.35) rotate(-90) scale(1.0909,1)" font-family="Liberation Sans, sans-serif" font-size="24.5" fill="#006d2c">2</text>
<text transform="translate(959.5,518.55) rotate(-90) scale(0.9848,1)" font-family="Liberation Sans, sans-serif" font-size="31" fill="#006d2c">m</text>
<text transform="translate(943.8,487.55) rotate(-90) scale(1.0317,1)" font-family="Liberation Sans, sans-serif" font-size="24.5" fill="#006d2c">-2</text>
<text transform="translate(959.4,462.15) rotate(-90) scale(1.0638,1)" font-family="Liberation Sans, sans-serif" font-size="31" fill="#006d2c">)</text>
<path transform="translate(23.80,861.74) rotate(-90) scale(38.640,33.285)" d="M0.005 0L0.608 0L0.31 -0.688ZM0.0875 -0.062L0.279 -0.494L0.466 -0.062Z" fill="#000" fill-rule="evenodd"/>
<text transform="translate(22.6,836.85) rotate(-90) scale(1.0825,1)" font-family="Liberation Sans, sans-serif" font-size="30.5" fill="#000">T</text>
<text transform="translate(37.7,817.45) rotate(-90) scale(1.0045,1)" font-family="Liberation Sans, sans-serif" font-size="24.5" fill="#000">s,bio</text>
<text transform="translate(23.0,750.05) rotate(-90) scale(0.9733,1)" font-family="Liberation Sans, sans-serif" font-size="30.5" fill="#000">(K)</text>
<path transform="translate(959.10,889.04) rotate(-90) scale(38.308,33.140)" d="M0.005 0L0.608 0L0.31 -0.688ZM0.0875 -0.062L0.279 -0.494L0.466 -0.062Z" fill="#006d2c" fill-rule="evenodd"/>
<text transform="translate(959.1,864.35) rotate(-90) scale(1.0348,1)" font-family="Liberation Sans, sans-serif" font-size="31" fill="#006d2c">LAI</text>
<text transform="translate(959.4,808.35) rotate(-90) scale(0.9309,1)" font-family="Liberation Sans, sans-serif" font-size="31" fill="#006d2c">(</text>
<text transform="translate(959.5,798.25) rotate(-90) scale(0.9819,1)" font-family="Liberation Sans, sans-serif" font-size="31" fill="#006d2c">m</text>
<text transform="translate(943.8,764.05) rotate(-90) scale(1.0909,1)" font-family="Liberation Sans, sans-serif" font-size="24.5" fill="#006d2c">2</text>
<text transform="translate(959.5,746.25) rotate(-90) scale(0.9848,1)" font-family="Liberation Sans, sans-serif" font-size="31" fill="#006d2c">m</text>
<text transform="translate(943.8,715.25) rotate(-90) scale(1.0317,1)" font-family="Liberation Sans, sans-serif" font-size="24.5" fill="#006d2c">-2</text>
<text transform="translate(959.4,689.85) rotate(-90) scale(1.0638,1)" font-family="Liberation Sans, sans-serif" font-size="31" fill="#006d2c">)</text>
<text transform="translate(129.0,39.2) rotate(0) scale(1.0,1)" font-family="Liberation Sans, sans-serif" font-size="39.5" fill="#000">a</text>
<text transform="translate(132.6,273.4) rotate(0) scale(1.0181,1)" font-family="Liberation Sans, sans-serif" font-size="39.5" fill="#000">b</text>
<text transform="translate(132.0,503.7) rotate(0) scale(1.0588,1)" font-family="Liberation Sans, sans-serif" font-size="39.5" fill="#000">c</text>
<text transform="translate(128.9,722.4) rotate(0) scale(1.0452,1)" font-family="Liberation Sans, sans-serif" font-size="39.5" fill="#000">d</text>
<text transform="translate(478.7,178.2) rotate(0) scale(0.9812,1)" font-family="Liberation Sans, sans-serif" font-size="27.8" fill="#000">All</text>
<text transform="translate(373.7,407.7) rotate(0) scale(0.9927,1)" font-family="Liberation Sans, sans-serif" font-size="27.8" fill="#000">Trees-surrounded</text>
<text transform="translate(354.8,633.1) rotate(0) scale(0.9984,1)" font-family="Liberation Sans, sans-serif" font-size="27.8" fill="#000">Grasses-surrounded</text>
<text transform="translate(310.6,861.2) rotate(0) scale(1.0006,1)" font-family="Liberation Sans, sans-serif" font-size="27.8" fill="#000">Shrubs/Barren-surrounded</text>
<text transform="translate(26.7,966.9) rotate(-20) scale(0.9932,1)" font-family="Liberation Sans, sans-serif" font-size="28" fill="#1a1a1a">All climate</text>
<text transform="translate(125.1,957.5) rotate(-20) scale(1.0059,1)" font-family="Liberation Sans, sans-serif" font-size="28" fill="#1a1a1a">Cool-Dry</text>
<text transform="translate(163.3,973.1) rotate(-20) scale(0.9914,1)" font-family="Liberation Sans, sans-serif" font-size="28" fill="#1a1a1a">Cool-Humid</text>
<text transform="translate(271.2,959.7) rotate(-20) scale(0.984,1)" font-family="Liberation Sans, sans-serif" font-size="28" fill="#1a1a1a">Cool-Wet</text>
<text transform="translate(332.1,964.1) rotate(-20) scale(0.9967,1)" font-family="Liberation Sans, sans-serif" font-size="28" fill="#1a1a1a">Warm-Dry</text>
<text transform="translate(367.7,979.8) rotate(-20) scale(0.995,1)" font-family="Liberation Sans, sans-serif" font-size="28" fill="#1a1a1a">Warm-Humid</text>
<text transform="translate(478.3,966.6) rotate(-20) scale(0.9908,1)" font-family="Liberation Sans, sans-serif" font-size="28" fill="#1a1a1a">Warm-Wet</text>
<text transform="translate(592.6,953.6) rotate(-20) scale(0.9956,1)" font-family="Liberation Sans, sans-serif" font-size="28" fill="#1a1a1a">Hot-Dry</text>
<text transform="translate(630.3,968.6) rotate(-20) scale(0.9829,1)" font-family="Liberation Sans, sans-serif" font-size="28" fill="#1a1a1a">Hot-Humid</text>
<text transform="translate(738.1,955.2) rotate(-20) scale(0.976,1)" font-family="Liberation Sans, sans-serif" font-size="28" fill="#1a1a1a">Hot-Wet</text>
</g>
</svg>
</body></html>
